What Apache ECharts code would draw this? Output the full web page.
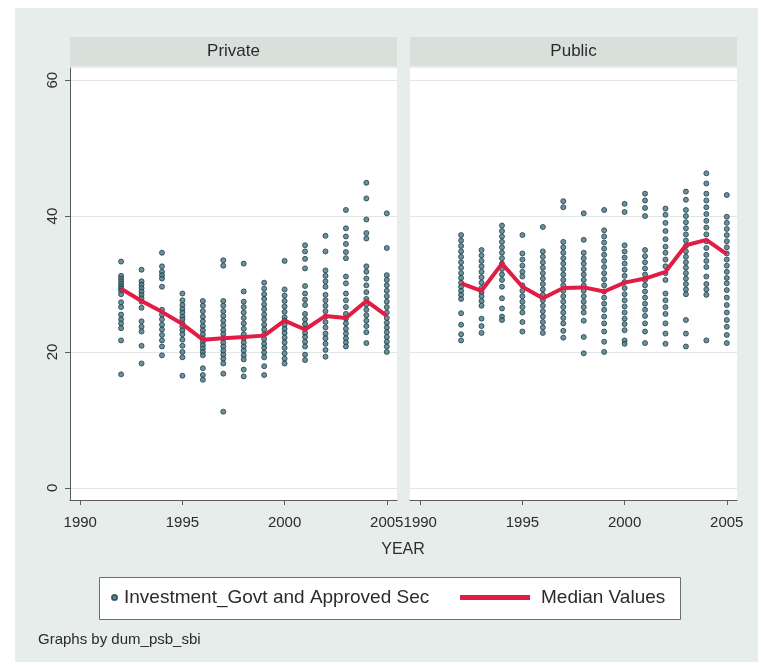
<!DOCTYPE html>
<html>
<head>
<meta charset="utf-8">
<script src="https://cdn.jsdelivr.net/npm/echarts@6/dist/echarts.min.js"></script>
<style>
  html, body { margin: 0; padding: 0; background: #ffffff; }
  #frame { position: absolute; left: 15px; top: 8px; width: 743px; height: 654px; background: #e7edea; }
  #chart { position: absolute; left: 0; top: 0; width: 761px; height: 665px; }
</style>
</head>
<body>
<div id="frame"></div>
<div id="chart"></div>
<script>
// Investment in govt and approved securities by bank group, 1992-2005
const years = [1992, 1993, 1994, 1995, 1996, 1997, 1998, 1999, 2000, 2001, 2002, 2003, 2004, 2005];
const panelNames = ['Private', 'Public'];
const yTicks = [0, 20, 40, 60];
const xTicks = [1990, 1995, 2000, 2005];

const privateMedian = [29.3, 27.5, 25.9, 24.1, 21.8, 22.0, 22.2, 22.4, 24.6, 23.3, 25.3, 25.0, 27.5, 25.3];
const publicMedian = [30.1, 29.0, 33.0, 29.6, 27.9, 29.4, 29.5, 28.9, 30.2, 30.8, 31.8, 35.7, 36.5, 34.4];

// one list of bank observations per year
const privateObs = [
  [33.3, 31.2, 30.8, 30.4, 30.0, 29.6, 29.3, 29.0, 28.5, 27.3, 26.6, 25.5, 24.8, 24.2, 23.5, 21.7, 16.7],
  [32.1, 30.4, 29.9, 29.4, 28.9, 28.4, 27.9, 27.4, 26.5, 24.5, 23.7, 23.0, 20.9, 18.3],
  [34.6, 32.6, 31.8, 31.3, 30.8, 29.6, 26.2, 25.5, 24.8, 24.0, 23.3, 22.5, 21.7, 20.8, 19.5],
  [28.6, 27.6, 26.9, 26.3, 25.8, 25.2, 24.8, 24.2, 23.7, 23.2, 22.6, 21.8, 20.9, 20.0, 19.2, 16.5],
  [27.5, 26.8, 26.0, 25.2, 24.5, 23.8, 23.2, 22.6, 22.0, 21.5, 21.0, 20.5, 20.0, 19.5, 17.6, 16.6, 15.9],
  [33.5, 32.7, 27.5, 26.8, 26.0, 25.3, 24.6, 23.9, 23.2, 22.6, 22.0, 21.4, 20.8, 20.2, 19.6, 19.0, 18.3, 16.8, 11.2],
  [33.0, 28.9, 27.4, 26.6, 25.8, 25.0, 24.2, 23.4, 22.6, 22.0, 21.4, 20.8, 20.2, 19.5, 18.9, 17.4, 16.4],
  [30.2, 29.3, 28.5, 27.8, 27.0, 26.3, 25.5, 24.8, 24.0, 23.3, 22.6, 21.9, 21.2, 20.6, 19.9, 19.2, 17.9, 16.6],
  [33.4, 29.2, 28.3, 27.5, 26.7, 25.9, 25.1, 24.6, 24.0, 23.4, 22.8, 22.1, 21.4, 20.6, 19.8, 19.0, 18.3],
  [35.7, 34.8, 33.7, 32.3, 29.7, 28.6, 27.7, 26.9, 25.6, 24.8, 24.1, 23.4, 22.8, 22.2, 21.5, 20.8, 19.6, 18.8],
  [37.1, 34.8, 32.0, 31.2, 30.4, 29.6, 28.4, 27.6, 26.8, 26.0, 25.2, 24.4, 23.6, 22.7, 22.0, 21.2, 20.3, 19.3],
  [40.9, 38.2, 37.0, 35.9, 34.7, 33.8, 31.1, 30.1, 28.6, 27.6, 26.6, 25.6, 24.9, 24.2, 23.4, 22.7, 22.0, 21.4, 20.8],
  [44.9, 42.6, 39.5, 37.5, 36.7, 32.6, 31.8, 30.8, 29.8, 28.8, 27.8, 27.0, 26.2, 25.4, 24.6, 23.8, 22.9, 21.3],
  [40.4, 35.3, 31.3, 30.6, 29.8, 29.0, 28.2, 27.4, 26.6, 25.8, 25.0, 24.3, 23.6, 22.9, 22.2, 21.5, 20.8, 20.0]
];

const publicObs = [
  [37.2, 36.4, 35.6, 34.8, 34.0, 33.2, 32.4, 31.6, 30.9, 30.2, 29.6, 29.0, 28.4, 27.8, 25.7, 24.0, 22.6, 21.7],
  [35.0, 34.2, 33.4, 32.6, 31.8, 31.0, 30.2, 29.4, 28.8, 28.2, 27.5, 26.8, 24.9, 23.8, 22.8],
  [38.6, 37.8, 37.0, 36.2, 35.4, 34.6, 33.8, 33.0, 32.2, 31.4, 30.6, 29.6, 27.9, 26.4, 25.2, 24.7],
  [37.2, 34.5, 33.6, 32.7, 31.8, 31.1, 29.8, 29.0, 28.2, 27.4, 26.6, 25.8, 24.4, 23.0],
  [38.4, 34.8, 34.0, 33.2, 32.4, 31.6, 30.8, 30.0, 29.2, 28.4, 27.6, 26.8, 26.0, 25.2, 24.4, 23.6, 22.8],
  [42.2, 41.3, 36.2, 35.4, 34.6, 33.8, 33.0, 32.2, 31.4, 30.6, 29.8, 29.0, 28.2, 27.4, 26.6, 25.8, 25.0, 24.2, 23.1, 22.1],
  [40.4, 36.5, 34.6, 33.8, 33.0, 32.2, 31.4, 30.6, 29.8, 29.0, 28.2, 27.4, 26.6, 25.8, 24.6, 22.2, 19.8],
  [40.9, 37.9, 37.0, 36.1, 35.2, 34.3, 33.4, 32.5, 31.6, 30.7, 29.8, 28.9, 28.0, 27.1, 26.2, 25.2, 24.2, 23.0, 21.5, 20.0],
  [41.8, 40.6, 35.7, 34.8, 33.9, 33.0, 32.1, 31.2, 30.3, 29.4, 28.5, 27.6, 26.7, 25.8, 24.9, 24.1, 23.2, 21.7, 21.2],
  [43.3, 42.3, 41.2, 40.0, 35.0, 34.1, 33.2, 32.3, 31.4, 30.6, 29.8, 28.9, 28.0, 27.1, 26.2, 25.3, 24.2, 23.0, 21.3],
  [41.1, 40.2, 39.0, 37.8, 36.6, 35.5, 34.6, 33.6, 32.6, 31.6, 30.6, 28.6, 27.6, 26.6, 25.6, 24.2, 22.7, 21.2],
  [43.6, 42.4, 40.9, 40.0, 39.1, 38.2, 37.3, 36.4, 35.6, 34.8, 34.0, 33.2, 32.4, 31.6, 30.8, 30.0, 29.2, 28.5, 24.7, 22.7, 20.8],
  [46.3, 44.8, 43.3, 42.3, 41.3, 40.3, 39.3, 38.3, 37.3, 36.3, 35.3, 34.3, 33.4, 32.5, 31.1, 30.0, 29.2, 28.4, 21.7],
  [43.1, 39.9, 39.0, 38.1, 37.2, 36.3, 35.4, 34.5, 33.6, 32.7, 31.8, 30.9, 30.1, 29.1, 28.0, 26.9, 25.8, 24.7, 23.7, 22.5, 21.3]
];

const SCATTER_NAME = 'Investment_Govt and Approved Sec';
const MEDIAN_NAME = 'Median Values';
const FONT = '"Liberation Sans", Arial, sans-serif';
const TEXT = '#2b2b2b';
const AXIS = '#5a5a5a';
const RED = '#e11d45';

const pairs = (obs) => obs.flatMap((vals, i) => vals.map(v => [years[i], v]));
const linePairs = (med) => med.map((v, i) => [years[i], v]);

const gridTop = 68, gridHeight = 432, gridWidth = 327;
const gridLefts = [70, 410];

function xAxis(idx) {
  return {
    gridIndex: idx, type: 'value', min: 1989.5, max: 2005.5,
    axisLine: { show: true, onZero: false, lineStyle: { color: AXIS, width: 1 } },
    axisTick: { show: true, length: 5, customValues: xTicks, lineStyle: { color: AXIS } },
    axisLabel: { customValues: xTicks, formatter: (v) => String(v),
                 fontSize: 15, color: TEXT, fontFamily: FONT, margin: 15 },
    splitLine: { show: false }
  };
}

function yAxis(idx) {
  const first = idx === 0;
  return {
    gridIndex: idx, type: 'value', min: -1.8, max: 61.8,
    axisLine: { show: first, lineStyle: { color: AXIS, width: 1 } },
    axisTick: { show: first, length: 5, customValues: yTicks, lineStyle: { color: AXIS } },
    axisLabel: { show: first, customValues: yTicks, formatter: (v) => String(v),
                 rotate: 90, fontSize: 15, color: TEXT, fontFamily: FONT, margin: 10 },
    splitLine: { show: true, lineStyle: { color: '#e1e6e4', width: 1 } }
  };
}

const scatterStyle = { color: '#4a7580', borderColor: '#1c3f4c', borderWidth: 1 };

const series = [];
[privateObs, publicObs].forEach((obs, i) => {
  series.push({
    name: SCATTER_NAME, type: 'scatter', xAxisIndex: i, yAxisIndex: i,
    symbol: 'circle', symbolSize: 5, itemStyle: scatterStyle,
    data: pairs(obs), z: 2, silent: true
  });
});
[privateMedian, publicMedian].forEach((med, i) => {
  series.push({
    name: MEDIAN_NAME, type: 'line', xAxisIndex: i, yAxisIndex: i,
    showSymbol: false, symbol: 'none',
    lineStyle: { color: RED, width: 4, join: 'round' },
    itemStyle: { color: RED },
    data: linePairs(med), z: 3, silent: true
  });
});

const option = {
  animation: false,
  backgroundColor: 'transparent',
  textStyle: { fontFamily: FONT },
  grid: gridLefts.map(l => ({
    left: l, top: gridTop, width: gridWidth, height: gridHeight,
    show: true, backgroundColor: '#ffffff', borderWidth: 0, containLabel: false
  })),
  xAxis: [xAxis(0), xAxis(1)],
  yAxis: [yAxis(0), yAxis(1)],
  title: [
    ...panelNames.map((t, i) => ({
      text: t, left: gridLefts[i] + gridWidth / 2, top: 43, textAlign: 'center', padding: 0,
      textStyle: { fontSize: 17, fontWeight: 'normal', color: TEXT, fontFamily: FONT }
    })),
    { text: 'YEAR', left: 403, top: 542, textAlign: 'center', padding: 0,
      textStyle: { fontSize: 16, fontWeight: 'normal', color: TEXT, fontFamily: FONT } },
    { text: 'Graphs by dum_psb_sbi', left: 38, top: 632, padding: 0,
      textStyle: { fontSize: 15, fontWeight: 'normal', color: TEXT, fontFamily: FONT } }
  ],
  legend: [
    { data: [{ name: SCATTER_NAME, icon: 'circle' }], left: 111, top: 588, padding: 0,
      itemWidth: 5, itemHeight: 5, selectedMode: false,
      textStyle: { fontSize: 19, color: TEXT, fontFamily: FONT, padding: [0, 0, 0, 2] } },
    { data: [{ name: MEDIAN_NAME, icon: 'rect' }], left: 460, top: 588, padding: 0,
      itemWidth: 70, itemHeight: 5, selectedMode: false,
      textStyle: { fontSize: 19, color: TEXT, fontFamily: FONT, padding: [0, 0, 0, 6] } }
  ],
  graphic: [
    ...gridLefts.map(l => ({
      type: 'rect', shape: { x: l, y: 37, width: gridWidth, height: 29 },
      style: { fill: '#d9e0dc' }, z: -1, silent: true
    })),
    { type: 'rect', shape: { x: 99.5, y: 577.5, width: 581, height: 42 },
      style: { fill: '#ffffff', stroke: '#6e6e6e', lineWidth: 1 }, z: -1, silent: true }
  ],
  series
};

const chart = echarts.init(document.getElementById('chart'), null, { renderer: 'canvas' });
chart.setOption(option);
</script>
</body>
</html>
